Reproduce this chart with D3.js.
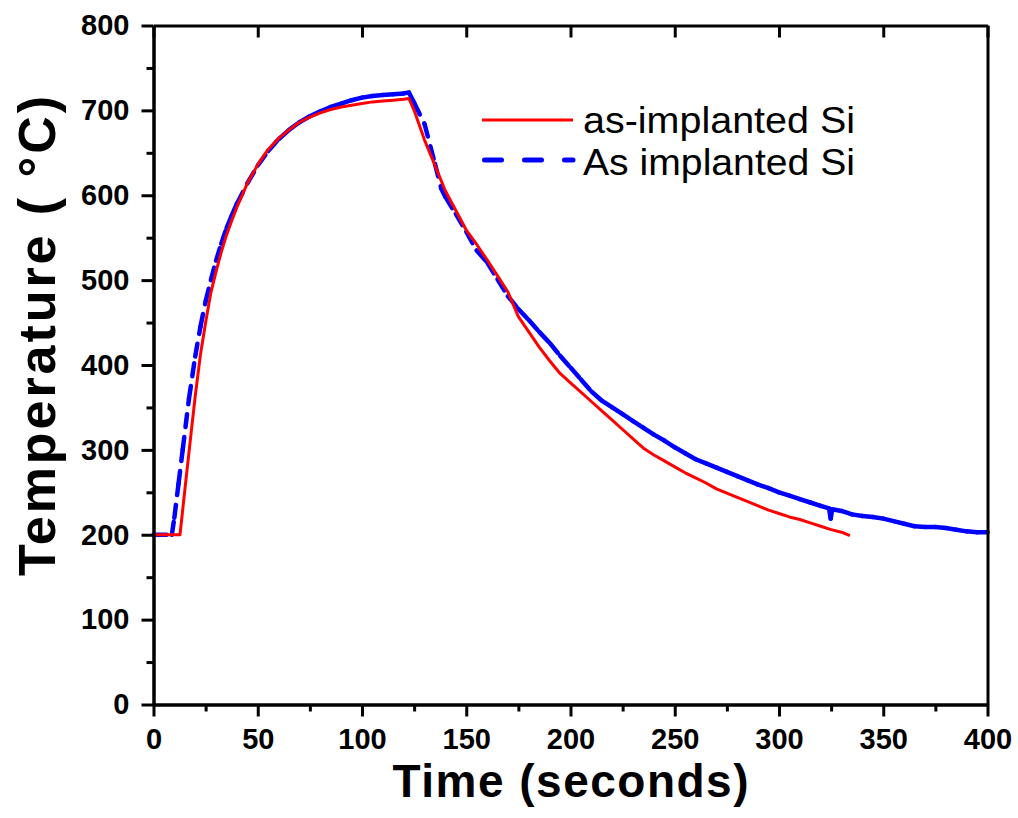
<!DOCTYPE html>
<html>
<head>
<meta charset="utf-8">
<script src="https://cdn.jsdelivr.net/npm/d3@7"></script>
<style>
  body { margin: 0; background: #fff; }
  text { font-family: "Liberation Sans", Arial, sans-serif; }
</style>
</head>
<body>
<div id="chart"></div>
<script>
// ---- data ----
var seriesNames = ["as-implanted Si", "As implanted Si"];

var redTime = [0, 5, 10, 12.7, 15, 17.5, 20, 22.5, 25, 27.5, 30, 32.5, 35, 37.5, 40, 45, 50, 55, 60, 65,
  70, 75, 80, 85, 90, 95, 100, 105, 110, 115, 120, 122.5, 125, 130, 135, 140, 145, 150, 155, 160,
  165, 170, 175, 180, 185, 190, 195, 200, 205, 210, 215, 220, 225, 230, 235, 240, 245, 250, 255, 260,
  265, 270, 275, 280, 285, 290, 295, 300, 305, 310, 315, 320, 325, 330, 334];
var redTemp = [200, 200, 200, 200, 252, 308, 363, 412, 450, 485, 510, 533, 553, 570, 586, 614, 636, 654, 667, 677,
  686, 692, 697, 701, 704, 706, 708, 710, 711, 712, 713, 714, 700, 665, 635, 605, 582, 559, 542, 524,
  505, 486, 457, 439, 421, 405, 390, 379, 368, 357, 346, 335, 324, 313, 302, 294, 287, 280, 273, 267,
  261, 254, 249, 244, 239, 234, 229, 225, 221, 218, 214, 210, 206, 203, 199];

var blueTime = [0, 8.8, 10, 12, 14, 17, 20, 22.5, 25, 27.5, 30, 32.5, 35, 37.5, 40, 45, 50, 55, 60, 65,
  70, 75, 80, 85, 90, 95, 100, 105, 110, 115, 120, 122.5, 125, 130, 135, 138, 140, 145, 150, 155,
  160, 165, 170, 175, 180, 185, 190, 195, 200, 205, 210, 215, 220, 225, 230, 235, 240, 245, 250, 255,
  260, 265, 270, 275, 280, 285, 290, 295, 300, 305, 310, 315, 320, 324, 324.8, 325.5, 330, 335, 340, 345,
  350, 355, 360, 365, 370, 375, 380, 385, 390, 395, 400];
var blueTemp = [200, 200, 220, 260, 300, 360, 410, 445, 475, 500, 523, 543, 561, 576, 590, 614, 635, 652, 666, 677,
  686, 693, 699, 704, 708, 712, 715, 717, 718, 719, 720, 721, 709, 684, 637, 608, 598, 578, 557, 535,
  521, 501, 481, 466, 453, 439, 426, 411, 397, 383, 369, 358, 350, 342, 334, 326, 318, 311, 303, 296,
  289, 284, 279, 274, 269, 264, 259, 255, 250, 246, 242, 238, 234, 231, 219, 230, 228, 224, 222, 221,
  219, 216, 213, 210, 209, 209, 208, 206, 204, 203, 203];

var xTicks = [0, 50, 100, 150, 200, 250, 300, 350, 400];
var xMinor = [25, 75, 125, 175, 225, 275, 325, 375];
var yTicks = [0, 100, 200, 300, 400, 500, 600, 700, 800];
var yMinor = [50, 150, 250, 350, 450, 550, 650, 750];

// ---- layout ----
var margin = {top: 25.5, right: 30.5, bottom: 113.5, left: 153.5},
    width = 1018 - margin.left - margin.right,
    height = 818 - margin.top - margin.bottom;

var svg = d3.select("#chart")
  .append("svg")
    .attr("width", 1018)
    .attr("height", 818)
  .append("g")
    .attr("transform", "translate(" + margin.left + "," + margin.top + ")");

var x = d3.scaleLinear().domain([0, 400]).range([0, width]);
var y = d3.scaleLinear().domain([0, 800]).range([height, 0]);

var redData = redTime.map(function(t, i) { return {t: t, v: redTemp[i]}; });
var blueData = blueTime.map(function(t, i) { return {t: t, v: blueTemp[i]}; });

// blue dashed series: dash pattern restarts on every segment, as the original plot does
svg.append("g")
  .selectAll("line")
  .data(d3.pairs(blueData))
  .join("line")
    .attr("x1", function(d) { return x(d[0].t); })
    .attr("y1", function(d) { return y(d[0].v); })
    .attr("x2", function(d) { return x(d[1].t); })
    .attr("y2", function(d) { return y(d[1].v); })
    .attr("stroke", "#0000ff")
    .attr("stroke-width", 4.5)
    .attr("stroke-linecap", "round")
    .attr("stroke-dasharray", "13,10");

// red solid series
var line = d3.line()
  .x(function(d) { return x(d.t); })
  .y(function(d) { return y(d.v); });

svg.append("path")
  .datum(redData)
  .attr("fill", "none")
  .attr("stroke", "#ff0000")
  .attr("stroke-width", 3)
  .attr("stroke-linejoin", "round")
  .attr("d", line);

// ---- axes ----
function styleAxis(g) {
  g.selectAll(".domain").attr("stroke", "#000").attr("stroke-width", 3);
  g.selectAll(".tick line").attr("stroke", "#000").attr("stroke-width", 3);
  g.selectAll(".tick text")
    .attr("fill", "#000")
    .style("font-family", "'Liberation Sans', Arial, sans-serif")
    .style("font-size", "29px")
    .style("font-weight", "bold");
}

// bottom
svg.append("g")
  .attr("transform", "translate(0," + height + ")")
  .call(d3.axisBottom(x).tickValues(xTicks).tickSize(12).tickPadding(12).tickSizeOuter(0))
  .call(styleAxis);
svg.append("g")
  .attr("transform", "translate(0," + height + ")")
  .call(d3.axisBottom(x).tickValues(xMinor).tickSize(7).tickFormat("").tickSizeOuter(0))
  .call(styleAxis);

// left
svg.append("g")
  .call(d3.axisLeft(y).tickValues(yTicks).tickSize(12).tickPadding(12).tickSizeOuter(0))
  .call(styleAxis);
svg.append("g")
  .call(d3.axisLeft(y).tickValues(yMinor).tickSize(7).tickFormat("").tickSizeOuter(0))
  .call(styleAxis);

// top (ticks inward, no labels)
svg.append("g")
  .call(d3.axisBottom(x).tickValues(xTicks).tickSize(12).tickFormat("").tickSizeOuter(0))
  .call(styleAxis);

// right (frame only)
svg.append("g")
  .attr("transform", "translate(" + width + ",0)")
  .call(d3.axisLeft(y).tickValues([]).tickSizeOuter(0))
  .call(styleAxis);

// axis titles
svg.append("text")
  .attr("x", width / 2)
  .attr("y", 797 - margin.top)
  .attr("text-anchor", "middle")
  .attr("textLength", 356)
  .attr("lengthAdjust", "spacing")
  .style("font-size", "46px")
  .style("font-weight", "bold")
  .text("Time (seconds)");

svg.append("text")
  .attr("transform", "translate(" + (55 - margin.left) + "," + (336 - margin.top) + ") rotate(-90)")
  .attr("text-anchor", "middle")
  .attr("textLength", 480)
  .attr("lengthAdjust", "spacing")
  .style("font-size", "52px")
  .style("font-weight", "bold")
  .text("Temperature ( °C)");

// ---- legend ----
var legend = svg.append("g")
  .attr("transform", "translate(" + (482 - margin.left) + "," + (120 - margin.top) + ")");

legend.append("line")
  .attr("x1", 0).attr("x2", 91).attr("y1", 0).attr("y2", 0)
  .attr("stroke", "#ff0000").attr("stroke-width", 3);
legend.append("line")
  .attr("x1", 2.5).attr("x2", 91).attr("y1", 40).attr("y2", 40)
  .attr("stroke", "#0000ff").attr("stroke-width", 5)
  .attr("stroke-linecap", "round")
  .attr("stroke-dasharray", "17,23");

legend.selectAll("text.leg")
  .data(seriesNames)
  .join("text")
    .attr("class", "leg")
    .attr("x", 101)
    .attr("y", function(d, i) { return 13 + i * 42; })
    .attr("textLength", 272)
    .attr("lengthAdjust", "spacingAndGlyphs")
    .style("font-size", "37px")
    .text(function(d) { return d; });
</script>
</body>
</html>
